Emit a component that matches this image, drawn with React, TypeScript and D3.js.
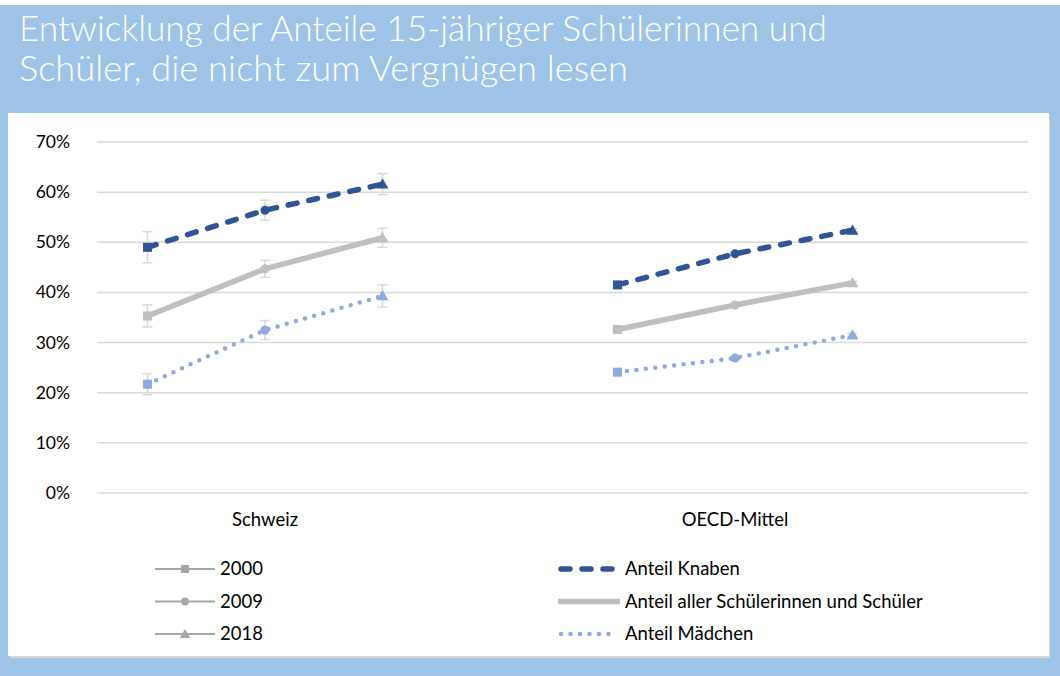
import React from 'react';
import * as d3 from 'd3';

const categories = ['Schweiz', 'OECD-Mittel'];
const years = ['2000', '2009', '2018'];
const yTicks = [0, 10, 20, 30, 40, 50, 60, 70];

// Anteile in %, je Kategorie: [2000, 2009, 2018]
const knaben = [[49.0, 56.4, 61.6], [41.5, 47.7, 52.4]];
const alle = [[35.3, 44.7, 50.9], [32.6, 37.5, 41.9]];
const maedchen = [[21.7, 32.5, 39.3], [24.1, 26.9, 31.5]];

// Fehlerbalken (+/- %)
const knabenErr = [[3.1, 2.0, 2.1], [0.3, 0.3, 0.3]];
const alleErr = [[2.2, 1.7, 1.9], [0.3, 0.3, 0.3]];
const maedchenErr = [[2.1, 1.9, 2.2], [0.3, 0.3, 0.3]];

const titleLines = [
  'Entwicklung der Anteile 15-jähriger Schülerinnen und',
  'Schüler, die nicht zum Vergnügen lesen',
];

const series = [
  { name: 'Anteil Mädchen', values: maedchen, err: maedchenErr, color: '#8FAADC', width: 4.5, dash: '0 9.5' },
  { name: 'Anteil aller Schülerinnen und Schüler', values: alle, err: alleErr, color: '#BFBFBF', width: 5.5, dash: null },
  { name: 'Anteil Knaben', values: knaben, err: knabenErr, color: '#2F5597', width: 5.5, dash: '9 12' },
];
const legendSeries = [series[2], series[1], series[0]];

const W = 1060;
const H = 676;
const FONT = 'Lato, "Open Sans", sans-serif';

const Marker = ({ year, x, y, color, s = 9 }: { year: string; x: number; y: number; color: string; s?: number }) => {
  if (year === '2000') {
    return <rect x={x - s / 2} y={y - s / 2} width={s} height={s} fill={color} />;
  }
  if (year === '2009') {
    return <circle cx={x} cy={y} r={s / 2} fill={color} />;
  }
  const tri = d3.symbol(d3.symbolTriangle, s * s * 0.75)();
  return <path d={tri || ''} transform={`translate(${x},${y + 1})`} fill={color} />;
};

export default function App() {
  const y = d3.scaleLinear().domain([0, 70]).range([493, 142]);
  const xCat = d3.scaleBand().domain(categories).range([30, 970]);
  const bw = xCat.bandwidth();
  const xYear = d3.scalePoint().domain(years).range([bw * 0.25, bw * 0.75]);
  const px = (ci: number, yi: number) => (xCat(categories[ci]) || 0) + (xYear(years[yi]) || 0);

  const line = d3.line<[number, number]>().x(d => d[0]).y(d => d[1]);

  return (
    <svg
      width={W}
      height={H}
      style={{ position: 'absolute', left: 0, top: 0, display: 'block' }}
    >
      <rect x={0} y={0} width={W} height={H} fill="#ffffff" />
      <rect x={0} y={5} width={W} height={H - 5} fill="#9DC3E6" />

      {titleLines.map((t, i) => (
        <text
          key={i}
          x={19}
          y={41 + i * 40}
          fill="#ffffff"
          fontFamily={FONT}
          fontWeight={300}
          fontSize={35}
          textLength={i === 0 ? 808 : 609}
          lengthAdjust="spacingAndGlyphs"
        >
          {t}
        </text>
      ))}

      {/* Panel */}
      <rect x={10} y={115} width={1040} height={543} fill="#D5D5D5" />
      <rect x={8} y={113} width={1041} height={543} fill="#ffffff" />

      {/* Gitter + Achse */}
      {yTicks.map(t => (
        <g key={t}>
          <line x1={97} x2={1028} y1={y(t)} y2={y(t)} stroke="#D9D9D9" strokeWidth={1.5} />
          <text x={70} y={y(t) + 6} textAnchor="end" fontFamily={FONT} fontSize={17.5} fill="#000">
            {t}%
          </text>
        </g>
      ))}

      {categories.map(c => (
        <text key={c} x={(xCat(c) || 0) + bw / 2} y={526} textAnchor="middle" fontFamily={FONT} fontSize={18.5} fill="#000">
          {c}
        </text>
      ))}

      {/* Fehlerbalken */}
      {series.map(s =>
        categories.map((c, ci) =>
          years.map((yr, yi) => {
            const x = px(ci, yi);
            const v = s.values[ci][yi];
            const e = s.err[ci][yi];
            return (
              <g key={`${s.name}-${c}-${yr}`} stroke="#D9D9D9" strokeWidth={1.5}>
                <line x1={x} x2={x} y1={y(v + e)} y2={y(v - e)} />
                <line x1={x - 5} x2={x + 5} y1={y(v + e)} y2={y(v + e)} />
                <line x1={x - 5} x2={x + 5} y1={y(v - e)} y2={y(v - e)} />
              </g>
            );
          })
        )
      )}

      {/* Linien */}
      {series.map(s =>
        categories.map((c, ci) => (
          <path
            key={`${s.name}-${c}-line`}
            d={line(years.map((_, yi) => [px(ci, yi), y(s.values[ci][yi])])) || ''}
            fill="none"
            stroke={s.color}
            strokeWidth={s.width}
            strokeDasharray={s.dash || undefined}
            strokeLinecap={s.dash ? 'round' : 'butt'}
          />
        ))
      )}

      {/* Marker */}
      {series.map(s =>
        categories.map((c, ci) =>
          years.map((yr, yi) => (
            <Marker key={`${s.name}-${c}-${yr}-m`} year={yr} x={px(ci, yi)} y={y(s.values[ci][yi])} color={s.color} />
          ))
        )
      )}

      {/* Legende Jahre */}
      {years.map((yr, i) => {
        const ly = 569 + i * 32.5;
        return (
          <g key={yr}>
            <line x1={155} x2={215} y1={ly} y2={ly} stroke="#A6A6A6" strokeWidth={2} />
            <Marker year={yr} x={185} y={ly} color="#A6A6A6" s={8} />
            <text x={220} y={ly + 6} fontFamily={FONT} fontSize={18.5} fill="#000">
              {yr}
            </text>
          </g>
        );
      })}

      {/* Legende Serien */}
      {legendSeries.map((s, i) => {
        const ly = 569 + i * 32.5;
        return (
          <g key={s.name}>
            <line
              x1={s.dash ? 561 : 558}
              x2={s.dash ? 617 : 620}
              y1={ly}
              y2={ly}
              stroke={s.color}
              strokeWidth={s.width}
              strokeDasharray={s.dash || undefined}
              strokeLinecap={s.dash ? 'round' : 'butt'}
            />
            <text x={625} y={ly + 6} fontFamily={FONT} fontSize={18.5} fill="#000">
              {s.name}
            </text>
          </g>
        );
      })}
    </svg>
  );
}
